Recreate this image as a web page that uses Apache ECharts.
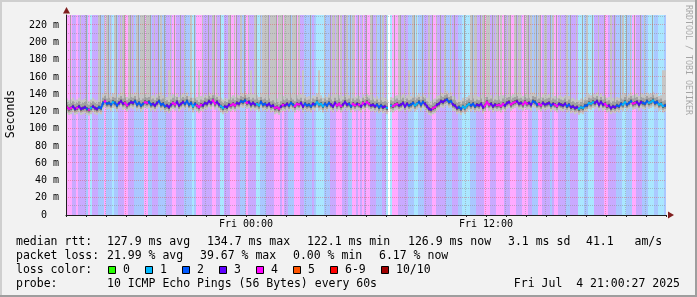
<!DOCTYPE html>
<html><head><meta charset="utf-8">
<script src="https://cdn.jsdelivr.net/npm/echarts@6/dist/echarts.min.js"></script>
<style>html,body{margin:0;padding:0;background:#f2f2f2}#c{width:697px;height:297px}</style>
</head><body><div id="c"></div>
<script>
// ---- axis domain (minutes relative to Fri 00:00) ----
const T_START = -540, T_END = 1260;
const Y_MAX = 232;
const X_LABELS = {0: 'Fri 00:00', 720: 'Fri 12:00'};
const X_MAJOR = [-360, 0, 360, 720, 1080];
const X_MINOR = [-480,-420,-300,-240,-180,-120,-60,60,120,180,240,300,420,480,540,600,660,780,840,900,960,1020,1140,1200];
const Y_MAJOR = [20,40,60,80,100,120,140,160,180,200,220];
const Y_MINOR = [10,30,50,70,90,110,130,150,170,190,210,230];

// ---- loss colours ----
const LOSS_COLORS = ['#26ff00','#00b8ff','#0059ff','#5e00ff','#ff00ff','#ff5500','#ff0000','#a00000'];
const LOSS_LABELS = ['0','1','2','3','4','5','6-9','10/10'];

// ---- per column (6 min) packet loss count, u = unknown ----
const LOSS_A = "44433 43333 24133 32224 22212 23334 43332 22224 42233 32222 33344 33332 22212 44433 33344";
const LOSS_B = "33113 33444 33222 43333 11222 33334 44343 32224 44332 22232 11112 22333 44433 32244 34343";
const LOSS_C = "44333 22233 1u144 43333 32221 12223 33344 33333 22233 32211 11222 33334 44333 44443 33444";
const LOSS_D = "33344 43322 24433 33234 43333 22333 31112 21113 33334 43333 22211 22244 33322 21112 21112";

// ---- smoke spread per column: . normal, m spike, l thin light line to top, d thin dark line to top, L full light column ----
const SMOKE_A = "..d.. ..l.. d.... .Ld.l Ldl.L d.lLd .Ldl. LdLLd LLd.l .dL.d .ml.d ..d.l ..L.d .m.l. .d.Ld";
const SMOKE_B = "l.d.. .Ld.l d.L.d .lm.L d.lLL LdLLL dLLdL LLdLL dL.m. ..d.. .m..l ..dLl LdL.d L.dLl .d.l.";
const SMOKE_C = "d.Ld. l.dL. lu..d .Ld.l .m.Ld l..d. .L.d. l.d.L ..l.d .m..d ..LdL l.dLd LL.dl LdL.d lLd.L";
const SMOKE_D = "dLl.d LdL.l dLd.L l.dL. d.l.. L.d.. l..d. L..d. .l..d ..L.d ..dL. d.l.d ..d.l ...d. ...mm";

// ---- median rtt per column (ms) ----
const MEDIAN_A = [125,123,124,126,123,124,126,123,124,125,123,122,124,126,124,123,125,124,130,
 132,129,130,128,131,130,127,130,132,129,130,127,129,131,130,132,128,130,127,129,131,130,
 131,128,129,127,130,132,128,129,126,127,125,128,130,128,131,127,129,131,129,132,128,130,126,129,127,125,128,127,130,129,132,130,133,129];
const MEDIAN_B = [131,128,126,124,126, 125,128,127,129,127,130,129,132,131,133,130,
 131,128,130,128,129,127,131,128,129,127,129,126,127,124, 125,123,126,128,127,129,127,130,128,126,129,
 128,130,126,129,127,128,126,129,128,131,128,129,126,129,127,130,128,126,130,127,129,126,128,131,128,129,126,129,127,129,128,126,130,128];
const MEDIAN_C = [131,129,127,128,126,128,125,127,125,126,124,125,
 127,126,128,129,127,128,130,126,129,127,128,130,127,129,131,128,
 131,129,126,123,122,124,125,128,129,132,131,133,134,
 131,132,128,127,124,125,123,126,124,127,129,127,
 129,126,128,127,129,125,127,131,128,129,126,128,127,
 128,126,129,127,130,131,128,130,131];
const MEDIAN_D = [132,129,130,128,131,129,130,128,132,131,128,129,127,130,128,129,
 130,127,129,128,126,129,128,127,129,126,128,125,126,124,125,123,
 125,124,127,127,130,129,131,130,132,128,131,128,129,126,127,124,
 126,125,127,126,129,128,131,128,130,132,129,130,131,128,131,130,
 129,132,130,131,133,130,131,128,129,126,127];

// ---- legend texts ----
const RTT_ITEMS = [['median rtt:',16],['127.9 ms avg',107],['134.7 ms max',207],['122.1 ms min',307],['126.9 ms now',408],['3.1 ms sd',508],['41.1   am/s',586]];
const LOSS_ITEMS = [['packet loss:',16],['21.99 % avg',107],['39.67 % max',200],['0.00 % min',293],['6.17 % now',379]];
const LOSS_BOX_X = [108,145,182,219,256,293,330,381];
const PROBE_ITEMS = [['probe:',16],['10 ICMP Echo Pings (56 Bytes) every 60s',107]];
const DATE_TEXT = 'Fri Jul  4 21:00:27 2025';

const strip = s => s.replace(/\s/g,'');
const LOSS = strip(LOSS_A + LOSS_B + LOSS_C + LOSS_D);
const SMOKE = strip(SMOKE_A + SMOKE_B + SMOKE_C + SMOKE_D);
const MEDIAN = MEDIAN_A.concat(MEDIAN_B, MEDIAN_C, MEDIAN_D);
const N = LOSS.length;
const COLW = (T_END - T_START) / N;

function lossIdx(ch){ const k = parseInt(ch,10); if (k<=5) return k; if (k<=9) return 6; return 7; }
function pale(hex){
  const r=parseInt(hex.slice(1,3),16), g=parseInt(hex.slice(3,5),16), b=parseInt(hex.slice(5,7),16), a=1/3;
  const m = v => Math.round(v*a + 255*(1-a));
  return 'rgb('+m(r)+','+m(g)+','+m(b)+')';
}
const PALE = LOSS_COLORS.map(pale);

const colData = [];
for (let i=0;i<N;i++) colData.push([T_START + (i+0.5)*COLW, MEDIAN[i] != null ? MEDIAN[i] : 0]);

function medAt(i){ if (i<0||i>=N||LOSS[i]==='u') return null; return MEDIAN[i]; }

function renderBg(params, api){
  const i = params.dataIndex;
  const l = LOSS[i];
  if (l === 'u' || l === undefined) return null;
  const t0 = T_START + i*COLW, t1 = t0 + COLW;
  const med = MEDIAN[i];
  const s = SMOKE[i] || '.';
  const p0 = api.coord([t0, Y_MAX]), p1 = api.coord([t1, 0]);
  const x = Math.round(p0[0]), w = Math.round(p1[0]) - x;
  const children = [{type:'rect', shape:{x:x, y:p0[1], width:w, height:p1[1]-p0[1]}, style:{fill: PALE[lossIdx(l)]}}];
  const band = (lo, hi, fill, bw) => {
    const a = api.coord([t0, Math.min(hi, Y_MAX)]), b = api.coord([t1, Math.max(lo,0)]);
    children.push({type:'rect', shape:{x:x, y:a[1], width:bw || w, height:b[1]-a[1]}, style:{fill:fill}});
  };
  band(med - 7, s === 'm' ? 168 : med + 10, '#c6c6c6');
  if (s === 'L') band(med, Y_MAX, '#c4c4c4');
  if (s === 'l') band(med, Y_MAX, '#c2c2c2', w/2);
  if (s === 'd') band(med, Y_MAX, '#a6a6a6', w/2);
  band(med - 4, med + 6, '#a2a2a2');
  band(med - 2, med + 2, '#606060');
  return {type:'group', children: children};
}

const GRID_LINES = []
  .concat(Y_MINOR.map(v => ({axis:'y', v:v, major:false})))
  .concat(Y_MAJOR.map(v => ({axis:'y', v:v, major:true})))
  .concat(X_MINOR.map(v => ({axis:'x', v:v, major:false})))
  .concat(X_MAJOR.map(v => ({axis:'x', v:v, major:true})));

function renderGrid(params, api){
  const g = GRID_LINES[params.dataIndex];
  const cs = params.coordSys;
  const stroke = g.major ? 'rgba(222,79,79,0.42)' : 'rgba(143,143,143,0.5)';
  let shape;
  if (g.axis === 'y'){
    const y = Math.round(api.coord([T_START, g.v])[1]) - 0.5;
    shape = {x1: cs.x, y1: y, x2: cs.x + cs.width, y2: y};
  } else {
    const x = Math.round(api.coord([g.v, 0])[0]) - 0.5;
    shape = {x1: x, y1: cs.y, x2: x, y2: cs.y + cs.height};
  }
  return {type:'line', shape: shape, style:{stroke: stroke, lineWidth:1, lineDash:[1,1]}};
}

function renderMed(params, api){
  const i = params.dataIndex;
  const m = medAt(i);
  if (m == null) return null;
  const pv = medAt(i-1), nx = medAt(i+1);
  const t0 = T_START + i*COLW, t1 = t0 + COLW, tc = t0 + COLW/2;
  const a = pv == null ? m : (pv + m)/2, b = nx == null ? m : (m + nx)/2;
  const pts = [api.coord([t0, a]), api.coord([tc, m]), api.coord([t1, b])];
  return {type:'polyline', shape:{points: pts}, style:{stroke: LOSS_COLORS[lossIdx(LOSS[i])], lineWidth:2, fill:null}};
}

const MONO = '"DejaVu Sans Mono", monospace';
const LEG_FONT = '11.5px ' + MONO;
const graphics = [];
graphics.push({type:'rect', shape:{x:0,y:0,width:697,height:2}, style:{fill:'#cfcfcf'}, silent:true});
graphics.push({type:'rect', shape:{x:0,y:0,width:2,height:297}, style:{fill:'#cfcfcf'}, silent:true});
graphics.push({type:'rect', shape:{x:0,y:295,width:697,height:2}, style:{fill:'#9e9e9e'}, silent:true});
graphics.push({type:'rect', shape:{x:695,y:0,width:2,height:297}, style:{fill:'#9e9e9e'}, silent:true});
graphics.push({type:'polygon', shape:{points:[[668,211.5],[668,218.5],[674,215]]}, style:{fill:'#801f1f'}, z:10});
graphics.push({type:'polygon', shape:{points:[[63,13.5],[70,13.5],[66.5,7]]}, style:{fill:'#801f1f'}, z:10});
graphics.push({type:'text', x:11.5, y:114, rotation:Math.PI/2, style:{text:'Seconds', font:LEG_FONT, fill:'#000', align:'center', verticalAlign:'middle'}});
graphics.push({type:'text', x:688.5, y:60, rotation:-Math.PI/2, style:{text:'RRDTOOL / TOBI OETIKER', font:'8.3px '+MONO, fill:'rgba(0,0,0,0.32)', align:'center', verticalAlign:'middle'}});
const LINE_Y = [242, 256, 270, 284];
RTT_ITEMS.forEach(it => graphics.push({type:'text', x:it[1], y:LINE_Y[0], style:{text:it[0], font:LEG_FONT, fill:'#000', verticalAlign:'middle'}}));
LOSS_ITEMS.forEach(it => graphics.push({type:'text', x:it[1], y:LINE_Y[1], style:{text:it[0], font:LEG_FONT, fill:'#000', verticalAlign:'middle'}}));
graphics.push({type:'text', x:16, y:LINE_Y[2], style:{text:'loss color:', font:LEG_FONT, fill:'#000', verticalAlign:'middle'}});
LOSS_BOX_X.forEach((bx, k) => {
  graphics.push({type:'rect', shape:{x:bx+0.5, y:266.5, width:7, height:7}, style:{fill:LOSS_COLORS[k], stroke:'#000', lineWidth:1}});
  graphics.push({type:'text', x:bx+15, y:LINE_Y[2], style:{text:LOSS_LABELS[k], font:LEG_FONT, fill:'#000', verticalAlign:'middle'}});
});
PROBE_ITEMS.forEach(it => graphics.push({type:'text', x:it[1], y:LINE_Y[3], style:{text:it[0], font:LEG_FONT, fill:'#000', verticalAlign:'middle'}}));
graphics.push({type:'text', x:680, y:LINE_Y[3], style:{text:DATE_TEXT, font:LEG_FONT, fill:'#000', align:'right', verticalAlign:'middle'}});

const chart = echarts.init(document.getElementById('c'), null, {renderer:'canvas', width:697, height:297});
chart.setOption({
  animation:false,
  backgroundColor:'#f2f2f2',
  grid:{left:66, top:15, width:600, height:200, show:true, backgroundColor:'#ffffff', borderWidth:0},
  xAxis:{type:'value', min:T_START, max:T_END, interval:60, z:5,
    axisLine:{show:true, onZero:false, lineStyle:{color:'#1f1f1f', width:1}},
    axisTick:{show:true, length:2, lineStyle:{color:'#1f1f1f'}},
    axisLabel:{show:true, margin:4, fontFamily:MONO, fontSize:10, color:'#000',
      formatter: v => X_LABELS[v] || ''},
    splitLine:{show:false}},
  yAxis:{type:'value', min:0, max:Y_MAX, interval:20, z:5,
    axisLine:{show:true, onZero:false, lineStyle:{color:'#1f1f1f', width:1}},
    axisTick:{show:false},
    axisLabel:{show:true, margin:7, fontFamily:MONO, fontSize:10, color:'#000', showMaxLabel:false,
      formatter: v => v === 0 ? '0  ' : (Y_MAJOR.indexOf(v) >= 0 ? v + ' m' : '')},
    splitLine:{show:false}},
  graphic: graphics,
  series:[
    {type:'custom', name:'loss', z:1, clip:true, data:colData, encode:{x:0,y:1}, renderItem:renderBg, silent:true},
    {type:'custom', name:'grid', z:2, clip:true, data:GRID_LINES.map(() => [0,0]), encode:{x:0,y:1}, renderItem:renderGrid, silent:true},
    {type:'custom', name:'median', z:3, clip:true, data:colData, encode:{x:0,y:1}, renderItem:renderMed, silent:true}
  ]
});
</script></body></html>
